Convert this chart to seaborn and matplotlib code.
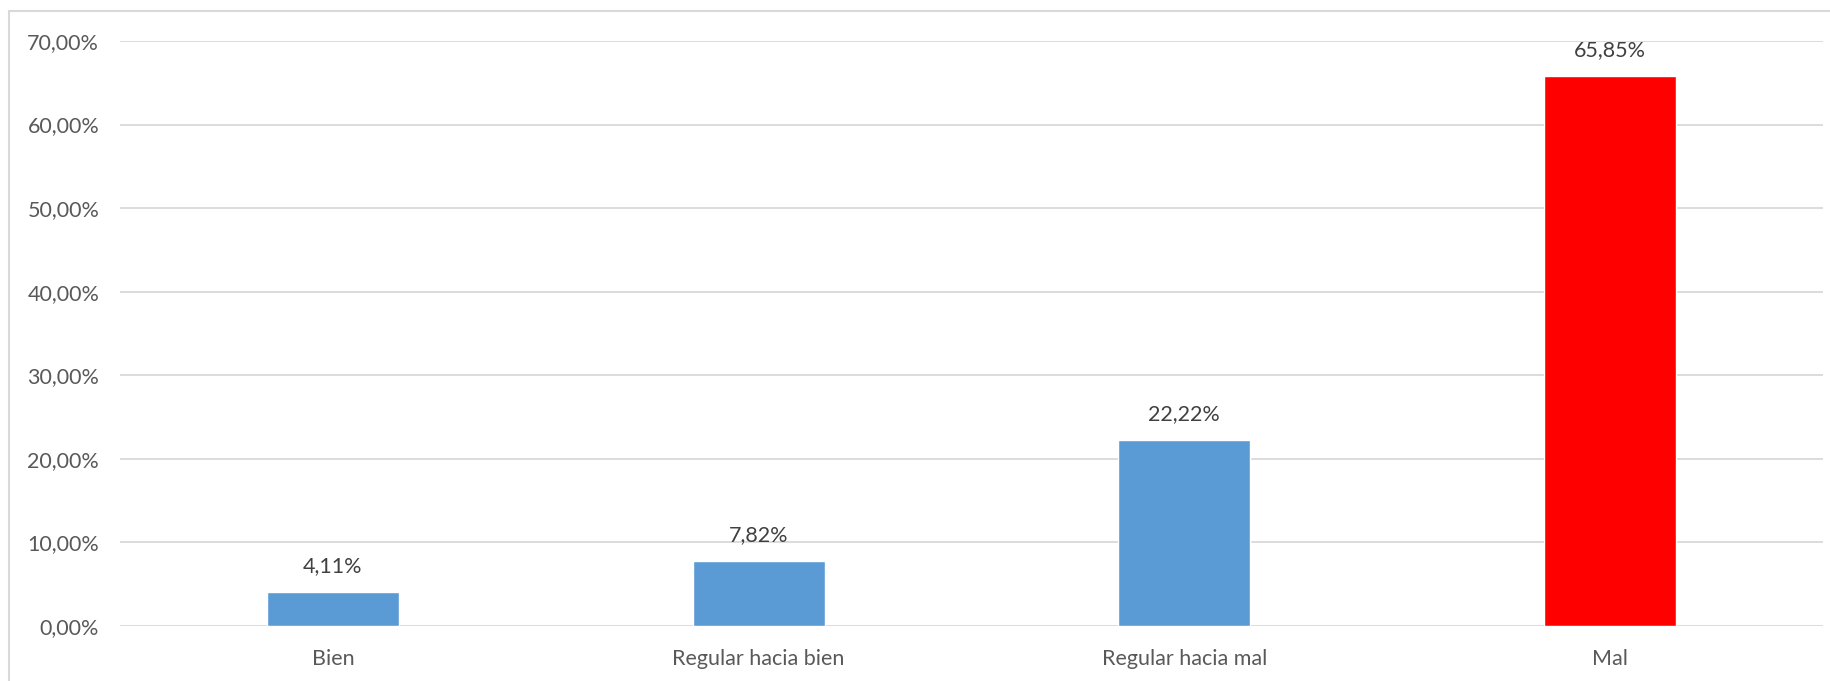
import matplotlib
matplotlib.use("Agg")
import matplotlib.pyplot as plt
import seaborn as sns
import pandas as pd
from matplotlib.patches import Rectangle
from matplotlib.ticker import FuncFormatter

categories = ["Bien", "Regular hacia bien", "Regular hacia mal", "Mal"]
values = [4.11, 7.82, 22.22, 65.85]
colors = ["#5B9BD5", "#5B9BD5", "#5B9BD5", "#FF0000"]
y_ticks = [0, 10, 20, 30, 40, 50, 60, 70]

sns.set_theme(style="white")
plt.rcParams['font.family'] = ['Lato', 'DejaVu Sans']

W, H = 1831, 681
fig = plt.figure(figsize=(W / 100, H / 100), dpi=100)
fig.patch.set_facecolor("white")
fig.patches.append(Rectangle((9 / W, -0.05), (W - 9) / W + 0.05, 1 - 11 / H + 0.05,
                             transform=fig.transFigure, fill=False,
                             edgecolor="#D9D9D9", linewidth=1.5))

ax = fig.add_axes([120 / W, 1 - 626 / H, (1823 - 120) / W, (626 - 41) / H])
df = pd.DataFrame({"cat": categories, "val": values})
sns.barplot(data=df, x="cat", y="val", hue="cat", palette=dict(zip(categories, colors)),
            width=0.31, legend=False, ax=ax, saturation=1, zorder=3)

ax.set_ylim(0, 70)
ax.set_xlim(-0.5, len(categories) - 0.5)
ax.set_yticks(y_ticks)
ax.yaxis.set_major_formatter(FuncFormatter(lambda v, p: f"{v:.2f}%".replace(".", ",")))
ax.grid(axis="y", color="#D9D9D9", linewidth=1.3, zorder=0)
ax.set_axisbelow(True)
for s in ax.spines.values():
    s.set_visible(False)
ax.tick_params(axis="y", length=0, pad=15, labelsize=15.5, labelcolor="#595959")
ax.tick_params(axis="x", length=0, pad=16.5, labelsize=15.5, labelcolor="#595959")
ax.set_xlabel("")
ax.set_ylabel("")

for i, v in enumerate(values):
    ax.annotate(f"{v:.2f}%".replace(".", ","), (i, v), xytext=(0, 11.5),
                textcoords="offset points", ha="center", va="bottom",
                fontsize=15.5, color="#404040")

fig.savefig("out.png", dpi=100, facecolor="white")
